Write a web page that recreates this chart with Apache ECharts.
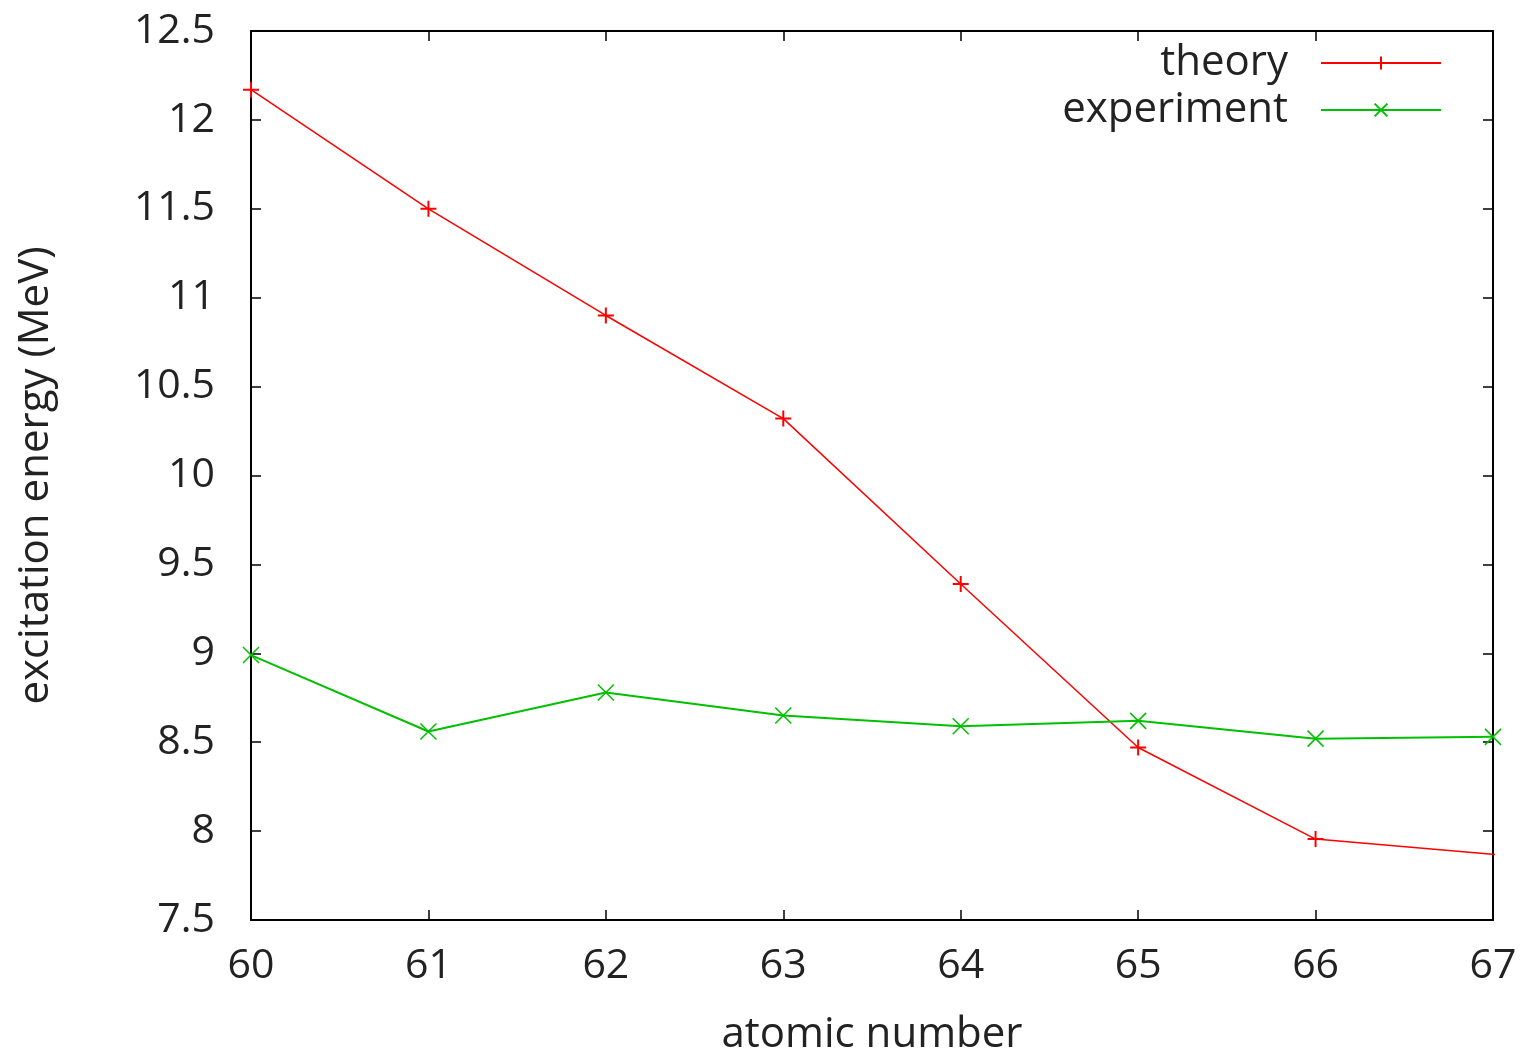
<!DOCTYPE html>
<html>
<head>
<meta charset="utf-8">
<script src="https://cdn.jsdelivr.net/npm/echarts@6/dist/echarts.min.js"></script>
<style>
  html, body { margin: 0; padding: 0; background: #fff; }
  #chart { width: 1526px; height: 1056px; }
</style>
</head>
<body>
<div id="chart"></div>
<script>
// data
const theoryZ = [60, 61, 62, 63, 64, 65, 66, 68];
const theoryE = [12.17, 11.50, 10.90, 10.32, 9.39, 8.47, 7.955, 7.785];
const experimentZ = [60, 61, 62, 63, 64, 65, 66, 67];
const experimentE = [8.99, 8.56, 8.78, 8.65, 8.59, 8.62, 8.52, 8.53];
const yTicks = [7.5, 8, 8.5, 9, 9.5, 10, 10.5, 11, 11.5, 12, 12.5];

const FONT = '"Open Sans", "DejaVu Sans", sans-serif';
const plusSym = 'path://M0,-5L0,5M-5,0L5,0';
const crossSym = 'path://M-5,-5L5,5M-5,5L5,-5';

const chart = echarts.init(document.getElementById('chart'));

const tickStyle = { show: true, inside: true, length: 10, lineStyle: { color: '#000', width: 1.5 } };
const lineStyleAxis = { show: true, lineStyle: { color: '#000', width: 2 } };
const legendText = { fontFamily: FONT, fontSize: 42, color: '#222', padding: [0, 28, 0, 0] };

chart.setOption({
  animation: false,
  backgroundColor: '#fff',
  grid: { left: 251, right: 33, top: 31, bottom: 136, outerBoundsMode: 'none', containLabel: false },
  legend: [
    {
      data: ['theory'], right: 79, top: 37, align: 'right', itemWidth: 120, itemHeight: 16,
      textStyle: legendText
    },
    {
      data: ['experiment'], right: 79, top: 84, align: 'right', itemWidth: 120, itemHeight: 16,
      textStyle: legendText
    }
  ],
  xAxis: [
    {
      type: 'value', min: 60, max: 67, interval: 1,
      name: 'atomic number', nameLocation: 'middle', nameGap: 94,
      nameTextStyle: { fontFamily: FONT, fontSize: 42, color: '#222' },
      axisLine: lineStyleAxis, axisTick: tickStyle,
      axisLabel: { fontFamily: FONT, fontSize: 41, color: '#222', margin: 26 },
      splitLine: { show: false }
    },
    {
      type: 'value', position: 'top', min: 60, max: 67, interval: 1,
      axisLine: lineStyleAxis, axisTick: tickStyle,
      axisLabel: { show: false }, splitLine: { show: false }
    }
  ],
  yAxis: [
    {
      type: 'value', min: yTicks[0], max: yTicks[yTicks.length - 1], interval: 0.5,
      name: 'excitation energy (MeV)', nameLocation: 'middle', nameGap: 194,
      nameTextStyle: { fontFamily: FONT, fontSize: 42, color: '#222' },
      axisLine: lineStyleAxis, axisTick: tickStyle,
      axisLabel: { fontFamily: FONT, fontSize: 41, color: '#222', margin: 36 },
      splitLine: { show: false }
    },
    {
      type: 'value', position: 'right', min: yTicks[0], max: yTicks[yTicks.length - 1], interval: 0.5,
      axisLine: lineStyleAxis, axisTick: tickStyle,
      axisLabel: { show: false }, splitLine: { show: false }
    }
  ],
  series: [
    {
      name: 'theory', type: 'line',
      data: theoryZ.map((z, i) => [z, theoryE[i]]),
      symbol: plusSym, symbolSize: 16, showAllSymbol: true, clip: true,
      lineStyle: { color: '#ff0000', width: 1.5 },
      itemStyle: { color: 'none', borderColor: '#ff0000', borderWidth: 2 }
    },
    {
      name: 'experiment', type: 'line',
      data: experimentZ.map((z, i) => [z, experimentE[i]]),
      symbol: crossSym, symbolSize: 16, showAllSymbol: true, clip: false,
      lineStyle: { color: '#00c000', width: 2 },
      itemStyle: { color: 'none', borderColor: '#00c000', borderWidth: 1.5 }
    }
  ]
});
</script>
</body>
</html>
